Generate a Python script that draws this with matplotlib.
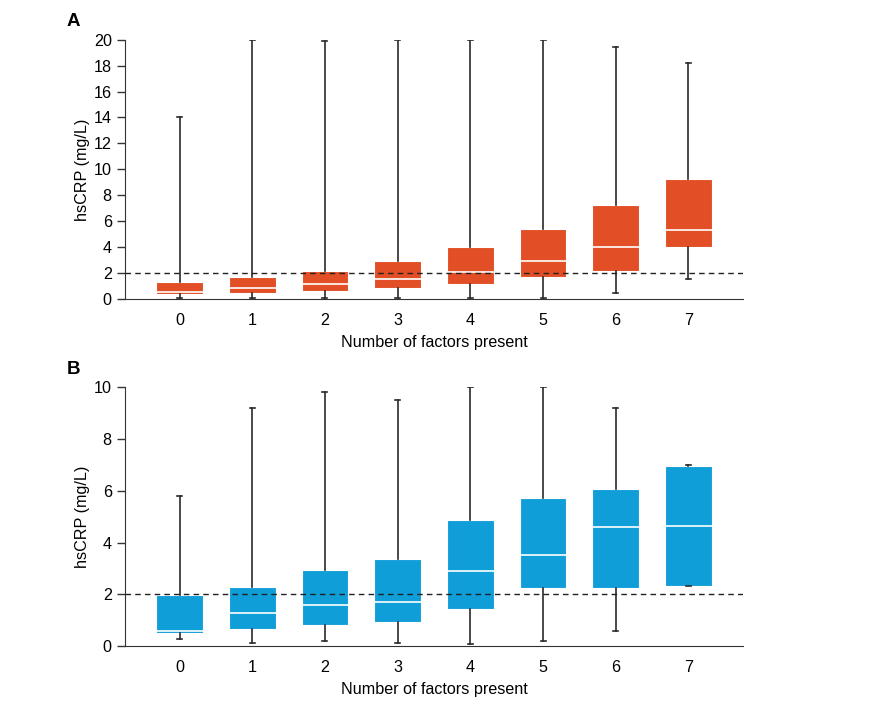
import matplotlib
matplotlib.use("Agg")
import matplotlib.pyplot as plt

plt.rcParams['font.family'] = ['Liberation Sans', 'DejaVu Sans']

factors = [0, 1, 2, 3, 4, 5, 6, 7]

# panel A (hsCRP, mg/L)
a_low = [0.05, 0.05, 0.05, 0.05, 0.05, 0.05, 0.44, 1.54]
a_q1 = [0.39, 0.46, 0.64, 0.85, 1.18, 1.70, 2.16, 4.03]
a_med = [0.54, 0.82, 1.13, 1.54, 2.10, 2.93, 4.03, 5.35]
a_q3 = [1.31, 1.70, 2.18, 2.90, 3.99, 5.42, 7.27, 9.23]
a_high = [14.0, 20.0, 19.9, 20.0, 20.0, 20.0, 19.43, 18.22]

# panel B
b_low = [0.28, 0.10, 0.19, 0.10, 0.08, 0.19, 0.59, 2.31]
b_q1 = [0.52, 0.64, 0.82, 0.94, 1.44, 2.23, 2.23, 2.33]
b_med = [0.58, 1.26, 1.57, 1.71, 2.90, 3.50, 4.60, 4.64]
b_q3 = [1.96, 2.27, 2.95, 3.35, 4.86, 5.72, 6.06, 6.96]
b_high = [5.81, 9.20, 9.82, 9.51, 10.0, 10.0, 9.20, 7.01]

cutoff = 2
fs = 11.6


def draw_panel(ax, low, q1, med, q3, high, color, ymax, ystep, letter):
    stats = []
    for i in range(len(factors)):
        stats.append({'whislo': low[i], 'q1': q1[i], 'med': med[i],
                      'q3': q3[i], 'whishi': high[i], 'fliers': []})
    ax.bxp(stats, positions=factors, widths=0.64, patch_artist=True,
           showfliers=False, capwidths=0.07,
           boxprops=dict(facecolor=color, edgecolor='white', linewidth=0.8),
           medianprops=dict(color='white', linewidth=1.2),
           whiskerprops=dict(color='#2a2a2a', linewidth=1.2),
           capprops=dict(color='#2a2a2a', linewidth=1.2))
    ax.axhline(cutoff, color='#222222', linestyle=(0, (4, 3)), linewidth=1.0, zorder=5)

    ax.set_xlim(-0.75, 7.75)
    ax.set_ylim(0, ymax)
    ax.set_yticks(range(0, ymax + 1, ystep))
    ax.set_xticks(factors)
    ax.set_xticklabels([str(f) for f in factors])
    ax.spines['top'].set_visible(False)
    ax.spines['right'].set_visible(False)
    ax.spines['left'].set_color('#333333')
    ax.spines['bottom'].set_color('#333333')
    ax.tick_params(axis='y', direction='out', length=6, width=1, labelsize=fs, color='#333333')
    ax.tick_params(axis='x', length=0, labelsize=fs, pad=10)
    ax.set_ylabel('hsCRP (mg/L)', fontsize=fs, labelpad=3)
    ax.set_xlabel('Number of factors present', fontsize=fs, labelpad=5)
    ax.text(-0.094, 1.07, letter, transform=ax.transAxes, fontsize=13.5,
            fontweight='bold', ha='left', va='center')


fig = plt.figure(figsize=(8.7, 7.03), dpi=100)
ax_a = fig.add_axes([0.1437, 0.5747, 0.7103, 0.3688])
ax_b = fig.add_axes([0.1437, 0.0811, 0.7103, 0.3679])

draw_panel(ax_a, a_low, a_q1, a_med, a_q3, a_high, '#E24E25', 20, 2, 'A')
draw_panel(ax_b, b_low, b_q1, b_med, b_q3, b_high, '#109ED8', 10, 2, 'B')

fig.savefig('out.png', dpi=100)
